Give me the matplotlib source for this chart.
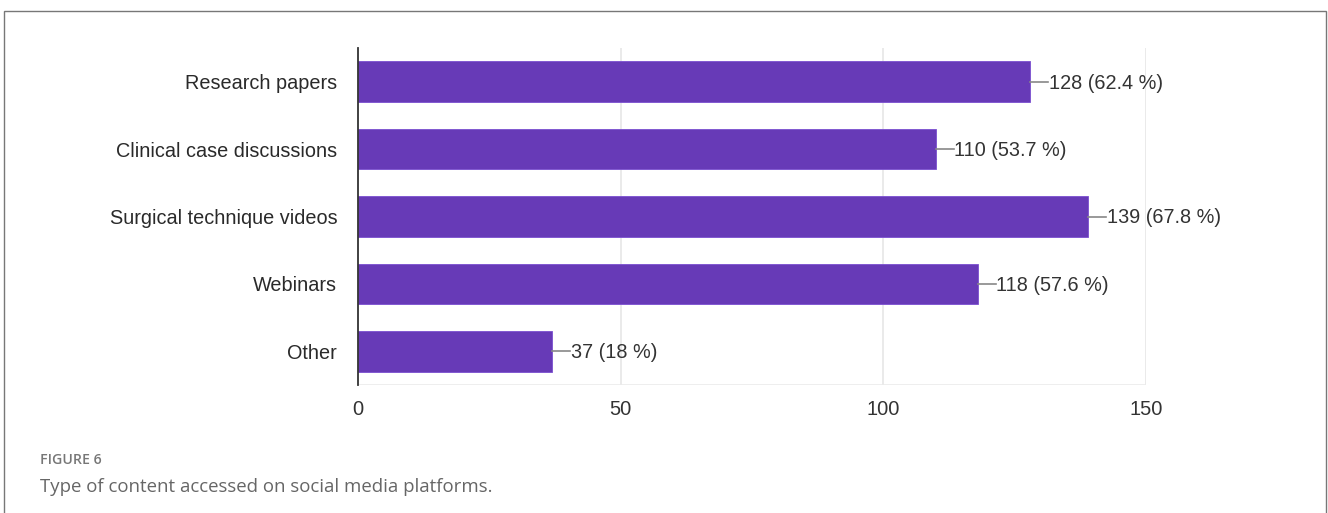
import matplotlib
matplotlib.use("Agg")
import matplotlib.pyplot as plt
from matplotlib.patches import Rectangle

categories = ["Research papers", "Clinical case discussions", "Surgical technique videos", "Webinars", "Other"]
counts = [128, 110, 139, 118, 37]
percents = ["62.4", "53.7", "67.8", "57.6", "18"]
xticks = [0, 50, 100, 150]

plt.rcParams['font.family'] = ['Liberation Sans', 'DejaVu Sans']

W, H = 1328, 513
fig = plt.figure(figsize=(W / 100, H / 100), dpi=100)
ax = fig.add_axes([358 / W, 1 - 385 / H, (1146 - 358) / W, (385 - 48) / H])

bar_color = "#673ab7"
ypos = list(range(len(categories)))
ax.barh(ypos, counts, height=0.6, color=bar_color, edgecolor="#7b4fd0", linewidth=0.6, zorder=3)

ax.set_ylim(len(categories) - 0.5, -0.5)
ax.set_xlim(0, 150)
ax.set_xticks(xticks)
ax.set_xticklabels([str(t) for t in xticks], fontsize=14.5, color="#333333")
ax.set_yticks(ypos)
ax.set_yticklabels(categories, fontsize=14.3, color="#2a2a2a")
ax.tick_params(axis='both', length=0)
ax.tick_params(axis='x', pad=11)
ax.tick_params(axis='y', pad=15)

for x in xticks[1:]:
    ax.axvline(x, color="#e6e6e6", lw=1.2, zorder=1)
ax.axhline(len(categories) - 0.5, color="#ebebeb", lw=1.2, zorder=1)

for s in ["top", "right", "bottom"]:
    ax.spines[s].set_visible(False)
ax.spines["left"].set_color("#333333")
ax.spines["left"].set_linewidth(1.3)
ax.spines["left"].set_zorder(4)

for y, c, p in zip(ypos, counts, percents):
    ax.plot([c, c + 3.4], [y, y], color="#888888", lw=1.2, zorder=3, clip_on=False)
    ax.text(c + 3.5, y + 0.02, f"{c} ({p} %)", va="center", ha="left", fontsize=14.3, color="#333333")

# outer frame
fig.patches.append(Rectangle((4 / W, -0.05), (1326 - 4) / W, 1 - 11 / H + 0.05,
                             transform=fig.transFigure, fill=False, edgecolor="#777777", lw=1.0))

fig.text(40 / W, 1 - 460 / H, "FIGURE 6", fontsize=10.2, color="#777777", fontweight="semibold",
         family=["Open Sans", "DejaVu Sans"], va="center", ha="left")
fig.text(40 / W, 1 - 487 / H, "Type of content accessed on social media platforms.", fontsize=13.4,
         color="#666666", family=["Open Sans", "DejaVu Sans"], va="center", ha="left")

fig.savefig("out.png", dpi=100)
